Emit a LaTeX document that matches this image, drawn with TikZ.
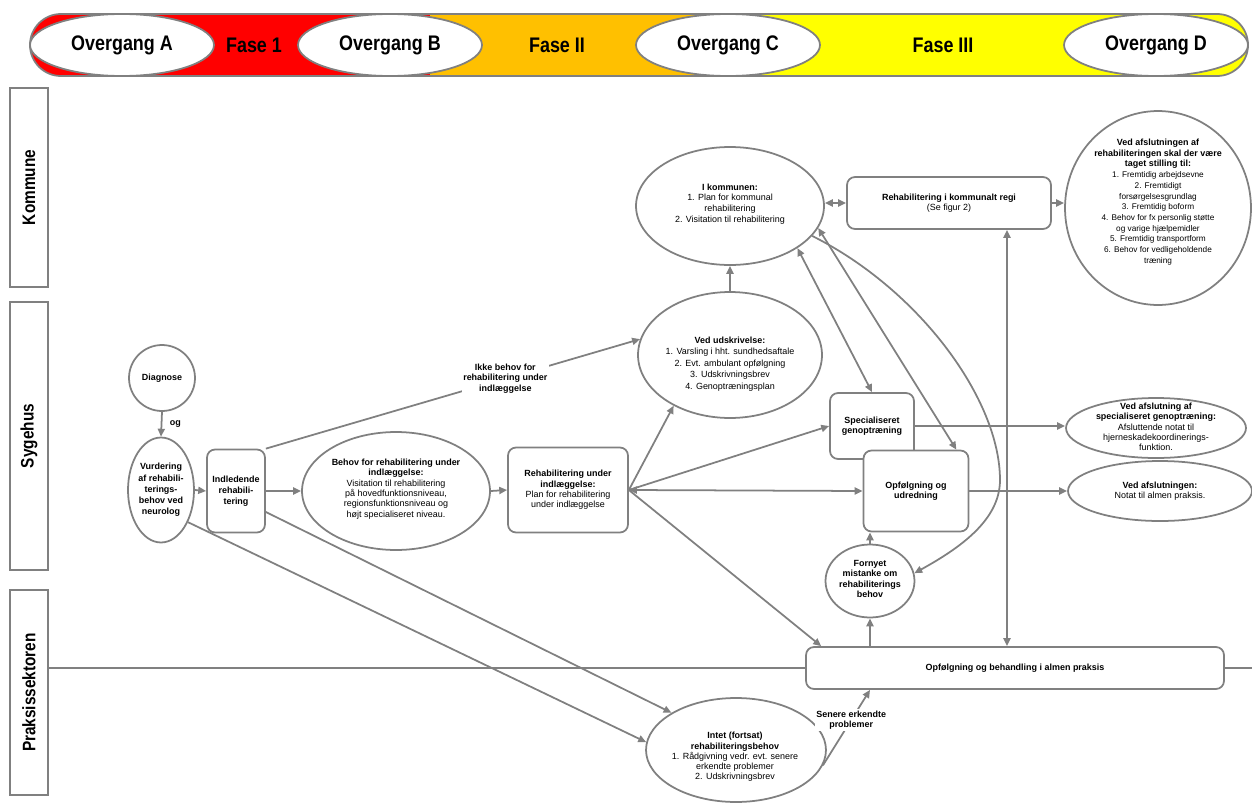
\documentclass[tikz,border=0pt]{standalone}
\usepackage{fontspec}
\setmainfont{Liberation Sans}
\newfontfamily\hdrfont[FakeStretch=0.85]{Liberation Sans}
\usetikzlibrary{shapes.geometric,arrows.meta,calc}
\definecolor{lc}{RGB}{128,128,128}
\definecolor{faseA}{RGB}{255,0,0}
\definecolor{faseB}{RGB}{255,192,0}
\definecolor{faseC}{RGB}{255,255,0}
\newcommand\smalltxt{\fontsize{5.1}{6.2}\selectfont}
\newcommand\fsz[1]{\fontsize{5.1}{#1}\selectfont}
\newcommand\tsz{\fontsize{4.7}{6.1}\selectfont}
\newcommand\hdrtxt{\hdrfont\bfseries\fontsize{12}{14}\selectfont}
\newcommand\lanetxt{\hdrfont\bfseries\fontsize{10.3}{12}\selectfont}
\begin{document}
\begin{tikzpicture}[x=0.02cm,y=-0.02cm,
 ln/.style={draw=lc,line width=1pt},
 arr/.style={ln,-{Triangle[length=4.5pt,width=4pt]}},
 darr/.style={ln,{Triangle[length=4.5pt,width=4pt]}-{Triangle[length=4.5pt,width=4pt]}},
 shp/.style={draw=lc,line width=1pt,fill=white},
 ell/.style={shp,ellipse,inner sep=0pt},
 rbox/.style={shp,rectangle,rounded corners=0.16cm,inner sep=0pt,align=center,font=\smalltxt},
 txt/.style={align=center,font=\smalltxt,inner sep=0pt},
 lbl/.style={align=center,font=\fsz{6}\bfseries,fill=white,inner sep=1pt},
 lanebox/.style={draw=lc,line width=1pt,minimum width=0.76cm,inner sep=0pt},
 hdr/.style={font=\hdrtxt,inner sep=0pt},
 ovbox/.style={shp,ellipse,inner sep=0pt,minimum width=3.68cm,minimum height=1.24cm,font=\hdrtxt}
]
\useasboundingbox (0,0) rectangle (1252,805);

% swimlanes
\node[lanebox,minimum height=3.98cm] (lk) at (29,187.5) {};
\node[rotate=90,font=\lanetxt] at (lk) {Kommune};
\node[lanebox,minimum height=5.36cm] (ls) at (29,436) {};
\node[rotate=90,font=\lanetxt] at (ls) {Sygehus};
\node[lanebox,minimum height=4.1cm] (lp) at (29,692.5) {};
\node[rotate=90,font=\lanetxt] at (lp) {Praksissektoren};

% phase bar
\begin{scope}
\clip[rounded corners=0.62cm] (30,14) rectangle (1248,76);
\fill[faseA] (30,14) rectangle (430,76);
\fill[faseB] (430,14) rectangle (758,76);
\fill[faseC] (758,14) rectangle (1248,76);
\end{scope}
\draw[ln,rounded corners=0.62cm] (30,14) rectangle (1248,76);
\node[hdr] at (254,45) {Fase 1};
\node[hdr] at (557,45) {Fase II};
\node[hdr] at (943,45) {Fase III};
\node[ovbox] (oa) at (122,45) {Overgang A};
\node[ovbox] (ob) at (390,45) {Overgang B};
\node[ovbox] (oc) at (728,45) {Overgang C};
\node[ovbox] (od) at (1156,45) {Overgang D};

% nodes
\node[ell,minimum width=1.32cm,minimum height=1.32cm] (diag) at (162,378) {};
\node[txt,font=\smalltxt\bfseries] at (diag) {Diagnose};
\node[ell,minimum width=1.32cm,minimum height=2.1cm] (vurd) at (161,490) {};
\node[txt,font=\fsz{6.4}\bfseries] at (vurd) {Vurdering\\af rehabili-\\terings-\\behov ved\\neurolog};
\node[rbox,minimum width=1.16cm,minimum height=1.66cm,font=\fsz{6.4}\bfseries] (indl) at (236,491) {Indledende\\rehabili-\\tering};
\node[ell,minimum width=3.76cm,minimum height=2.36cm] (behov) at (396,491) {};
\node[txt,font=\fsz{5.9}] at (396,489) {\textbf{Behov for rehabilitering under}\\\textbf{indlæggelse:}\\Visitation til rehabilitering\\på hovedfunktionsniveau,\\regionsfunktionsniveau og\\højt specialiseret niveau.};
\node[rbox,minimum width=2.4cm,minimum height=1.7cm,font=\fsz{5.9}] (rehab) at (568,490) {\textbf{Rehabilitering under}\\\textbf{indlæggelse:}\\Plan for rehabilitering\\under indlæggelse};
\node[ell,minimum width=3.68cm,minimum height=2.52cm] (udskr) at (730,355) {};
\node[txt,font=\fsz{6.5}] at (730,364) {\textbf{Ved udskrivelse:}\\1. Varsling i hht. sundhedsaftale\\2. Evt. ambulant opfølgning\\3. Udskrivningsbrev\\4. Genoptræningsplan};
\node[ell,minimum width=3.76cm,minimum height=2.36cm] (komm) at (730,206) {};
\node[txt,font=\fsz{6.1}] at (730,204) {\textbf{I kommunen:}\\1. Plan for kommunal\\rehabilitering\\2. Visitation til rehabilitering};
\node[rbox,minimum width=4.08cm,minimum height=1.04cm,font=\fsz{6}] (kreg) at (949,203) {\textbf{Rehabilitering i kommunalt regi}\\(Se figur 2)};
\node[ell,minimum width=3.72cm,minimum height=3.88cm] (afsl) at (1158,208) {};
\node[txt,font=\fsz{6.1}] at (1158,202) {\textbf{Ved afslutningen af}\\\textbf{rehabiliteringen skal der være}\\\textbf{taget stilling til:}\\{\tsz 1. Fremtidig arbejdsevne}\\{\tsz 2. Fremtidigt}\\{\tsz forsørgelsesgrundlag}\\{\tsz 3. Fremtidig boform}\\{\tsz 4. Behov for fx personlig støtte}\\{\tsz og varige hjælpemidler}\\{\tsz 5. Fremtidig transportform}\\{\tsz 6. Behov for vedligeholdende}\\{\tsz træning}};
\node[rbox,minimum width=1.68cm,minimum height=1.32cm,font=\fsz{6}\bfseries] (spec) at (872,426) {Specialiseret\\genoptræning};
\node[rbox,minimum width=2.1cm,minimum height=1.62cm,font=\fsz{6}\bfseries] (udred) at (916,491) {Opfølgning og\\udredning};
\node[ell,minimum width=3.6cm,minimum height=1.2cm] (aspec) at (1156,428) {};
\node[txt,font=\fsz{5.9}] at (1156,427) {\textbf{Ved afslutning af}\\\textbf{specialiseret genoptræning:}\\Afsluttende notat til\\hjerneskadekoordinerings-\\funktion.};
\node[ell,minimum width=3.68cm,minimum height=1.2cm] (notat) at (1160,491) {};
\node[txt,font=\fsz{6}] at (1160,491) {\textbf{Ved afslutningen:}\\Notat til almen praksis.};
\node[ell,minimum width=1.78cm,minimum height=1.46cm] (forn) at (870,581) {};
\node[txt,font=\fsz{6}\bfseries] at (870,579) {Fornyet\\mistanke om\\rehabiliterings\\behov};
\node[rbox,minimum width=8.36cm,minimum height=0.84cm,font=\smalltxt\bfseries] (behand) at (1015,668) {Opfølgning og behandling i almen praksis};
\node[ell,minimum width=3.6cm,minimum height=2.08cm] (intet) at (736,750) {};
\node[txt,font=\fsz{5.8}] at (735,757) {\textbf{Intet (fortsat)}\\\textbf{rehabiliteringsbehov}\\1. Rådgivning vedr. evt. senere\\erkendte problemer\\2. Udskrivningsbrev};
\coordinate (redge) at (1252,668);
\coordinate (vx) at ([xshift=1.16cm]kreg.south);

% connectors
\draw[arr] (diag.south) -- (vurd.north) node[midway,right=1pt,font=\smalltxt\bfseries]{og};
\draw[arr] (vurd.east) -- (indl.west);
\draw[arr] (indl.east) -- (behov.west);
\draw[arr] (behov.east) -- (rehab.west);
\draw[arr] (indl.north east) -- (udskr.170) node[lbl,pos=0.64]{Ikke behov for\\rehabilitering under\\indlæggelse};
\draw[arr] ([yshift=-0.42cm]indl.east) -- (intet.150);
\draw[arr] (vurd.-50) -- (intet.175);
\draw[arr] (rehab.east) -- (udskr.222);
\draw[arr] (rehab.east) -- (spec.west);
\draw[darr] (rehab.east) -- (udred.west);
\draw[arr] (rehab.east) -- ([xshift=0.32cm]behand.north west);
\draw[arr] (udskr.north) -- (komm.south);
\draw[darr] (kreg.west -| komm.east) -- (kreg.west);
\draw[arr] (kreg.east) -- (kreg.east -| afsl.west);
\draw[darr] (vx) -- (vx |- behand.north);
\draw[darr] (komm.-32) -- (spec.north);
\draw[darr] (komm.-14) -- ([xshift=-0.26cm]udred.north east);
\draw[arr] (komm.-20) .. controls (920,290) and (1000,400) .. (1000,480) .. controls (1000,520) and (960,548) .. (forn.10);
\draw[arr] (spec.east) -- (spec.east -| aspec.west);
\draw[arr] (udred.east) -- (udred.east -| notat.west);
\draw[arr] (forn.north) -- (forn.north |- udred.south);
\draw[arr] (forn.south |- behand.north) -- (forn.south);
\draw[arr] (intet.-10) -- (forn.south |- behand.south) node[lbl,pos=0.6]{Senere erkendte\\problemer};
\draw[ln] (behand.west -| lp.east) -- (behand.west);
\draw[ln] (behand.east) -- (redge);
\end{tikzpicture}
\end{document}
